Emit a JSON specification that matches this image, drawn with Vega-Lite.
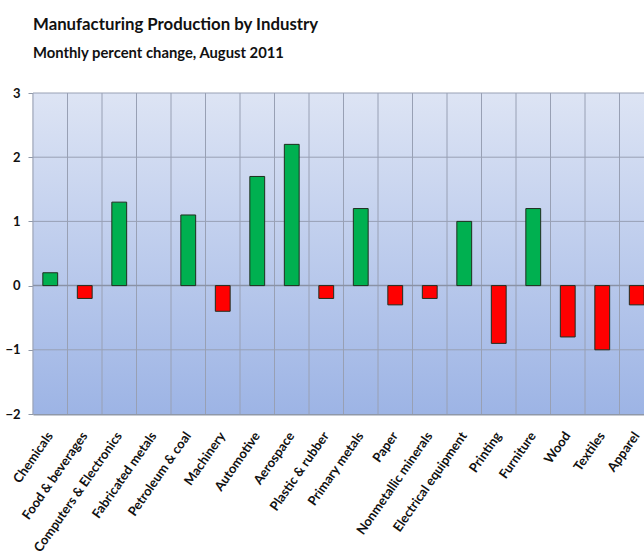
{
  "$schema": "https://vega.github.io/schema/vega-lite/v6.json",
  "autosize": "none",
  "width": 611,
  "height": 321,
  "padding": {"left": 33, "top": 93, "right": 0, "bottom": 142},
  "background": "white",
  "config": {"view": {"stroke": null}, "font": "Lato"},
  "title": {
    "text": "Manufacturing Production by Industry",
    "subtitle": "Monthly percent change, August 2011",
    "anchor": "start",
    "frame": "group",
    "font": "Lato",
    "fontSize": 16.8,
    "fontWeight": "bold",
    "color": "#111111",
    "subtitleFont": "Lato",
    "subtitleFontSize": 14.8,
    "subtitleFontWeight": "bold",
    "subtitleColor": "#111111",
    "subtitlePadding": 12,
    "offset": 26
  },
  "datasets": {
    "prod": [
      {"industry": "Chemicals", "change": 0.2},
      {"industry": "Food & beverages", "change": -0.2},
      {"industry": "Computers & Electronics", "change": 1.3},
      {"industry": "Fabricated metals", "change": 0.0},
      {"industry": "Petroleum & coal", "change": 1.1},
      {"industry": "Machinery", "change": -0.4},
      {"industry": "Automotive", "change": 1.7},
      {"industry": "Aerospace", "change": 2.2},
      {"industry": "Plastic & rubber", "change": -0.2},
      {"industry": "Primary metals", "change": 1.2},
      {"industry": "Paper", "change": -0.3},
      {"industry": "Nonmetallic minerals", "change": -0.2},
      {"industry": "Electrical equipment", "change": 1.0},
      {"industry": "Printing", "change": -0.9},
      {"industry": "Furniture", "change": 1.2},
      {"industry": "Wood", "change": -0.8},
      {"industry": "Textiles", "change": -1.0},
      {"industry": "Apparel", "change": -0.3}
    ],
    "grid": [{"v": -1}, {"v": 1}, {"v": 2}, {"v": 3}]
  },
  "layer": [
    {
      "data": {"values": [{}]},
      "mark": {
        "type": "rect",
        "fill": {
          "gradient": "linear",
          "x1": 0, "y1": 0, "x2": 0, "y2": 1,
          "stops": [
            {"offset": 0, "color": "#dde4f4"},
            {"offset": 1, "color": "#9db4e5"}
          ]
        }
      },
      "encoding": {
        "y": {"datum": 3, "type": "quantitative", "scale": {"domain": [-2, 3]}},
        "y2": {"datum": -2}
      }
    },
    {
      "data": {"name": "grid"},
      "mark": {"type": "rule", "stroke": "#98a0b4", "strokeWidth": 1},
      "encoding": {
        "y": {"field": "v", "type": "quantitative"}
      }
    },
    {
      "data": {"name": "prod"},
      "mark": {"type": "rule", "stroke": "#98a0b4", "strokeWidth": 1},
      "encoding": {
        "x": {"field": "industry", "type": "nominal", "sort": null, "bandPosition": 0},
        "y": {"datum": 3, "type": "quantitative"},
        "y2": {"datum": -2}
      }
    },
    {
      "data": {"values": [{}]},
      "mark": {"type": "rule", "stroke": "#8a92a6", "strokeWidth": 1.5},
      "encoding": {
        "y": {"datum": 0, "type": "quantitative"}
      }
    },
    {
      "data": {"name": "prod"},
      "mark": {"type": "bar", "width": {"band": 0.43}, "stroke": "#1e2e1e", "strokeWidth": 1},
      "encoding": {
        "x": {
          "field": "industry",
          "type": "nominal",
          "sort": null,
          "scale": {"range": [0, 621], "paddingInner": 0, "paddingOuter": 0},
          "axis": {
            "title": null,
            "labelAngle": -55,
            "labelAlign": "right",
            "labelBaseline": "middle",
            "labelFont": "Lato",
            "labelFontSize": 13,
            "labelFontWeight": "bold",
            "labelColor": "#111111",
            "labelPadding": 19,
            "ticks": false,
            "domain": true,
            "domainColor": "#8f98a8",
            "domainWidth": 2,
            "labelOverlap": false,
            "labelLimit": 300
          }
        },
        "y": {
          "field": "change",
          "type": "quantitative",
          "scale": {"domain": [-2, 3], "nice": false},
          "axis": {
            "title": null,
            "values": [-2, -1, 0, 1, 2, 3],
            "format": "d",
            "grid": false,
            "labelFont": "Lato",
            "labelFontSize": 13,
            "labelFontWeight": "bold",
            "labelColor": "#111111",
            "labelPadding": 8,
            "tickColor": "#8f98a8",
            "tickSize": 5,
            "domainColor": "#8f98a8",
            "domainWidth": 1.5
          }
        },
        "color": {
          "condition": {"test": "datum.change < 0", "value": "#ff0000"},
          "value": "#00b050"
        },
        "strokeOpacity": {
          "condition": {"test": "datum.change == 0", "value": 0},
          "value": 1
        }
      }
    }
  ]
}
